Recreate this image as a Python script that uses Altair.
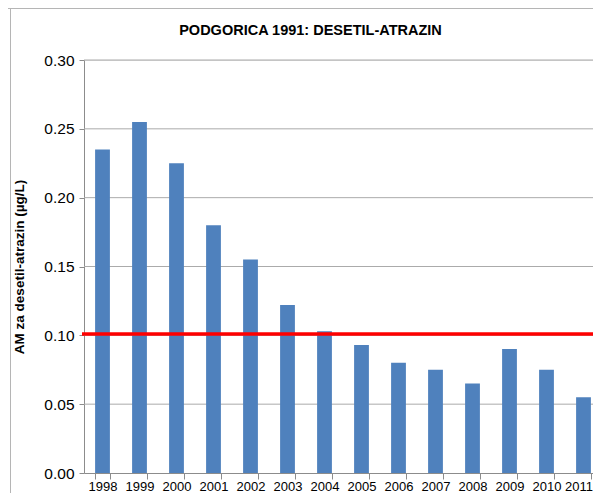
import altair as alt
import pandas as pd

years = ["1998", "1999", "2000", "2001", "2002", "2003", "2004",
         "2005", "2006", "2007", "2008", "2009", "2010", "2011"]
values = [0.235, 0.255, 0.225, 0.180, 0.155, 0.122, 0.103,
          0.093, 0.080, 0.075, 0.065, 0.090, 0.075, 0.055]
threshold = [0.101]
y_ticks = [0.00, 0.05, 0.10, 0.15, 0.20, 0.25, 0.30]
chart_title = "PODGORICA 1991: DESETIL-ATRAZIN"
y_title = "AM za desetil-atrazin (µg/L)"

FONT = "Liberation Sans"
GRAY = "#8C8C8C"
Y_SCALE = alt.Scale(domain=[0, 0.30], nice=False, zero=True)

df = pd.DataFrame({"year": years, "value": values})
tdf = pd.DataFrame({"limit": threshold})
gdf = pd.DataFrame({"tick": y_ticks[1:]})
frame_df = pd.DataFrame({"k": [0]})

grid = alt.Chart(gdf).mark_rule(color="#ABABAB", strokeWidth=1).encode(
    y=alt.Y("tick:Q", scale=Y_SCALE, title=y_title),
    x=alt.value(0), x2=alt.value(530),
)

bars = alt.Chart(df).mark_bar(color="#4F81BD").encode(
    x=alt.X(
        "year:N", sort=years,
        scale=alt.Scale(paddingInner=0.6, paddingOuter=0.3, range=[0, 518]),
        axis=alt.Axis(title=None, labelAngle=0, tickBand="extent",
                      labelFont=FONT, labelFontSize=13, labelColor="black",
                      labelOffset={"condition": {"test": "datum.value === '2011'", "value": -5},
                                   "value": 0},
                      domainColor=GRAY, tickColor=GRAY, tickSize=6,
                      labelPadding=1, grid=False),
    ),
    y=alt.Y(
        "value:Q", scale=Y_SCALE,
        axis=alt.Axis(values=y_ticks, format=".2f", title=y_title,
                      labelFont=FONT, labelFontSize=15.5, labelColor="black",
                      titleFont=FONT, titleFontSize=13.5, titleFontWeight="bold",
                      titleColor="black", titleX=-58, titleBaseline="bottom",
                      domainColor=GRAY, tickColor=GRAY, tickSize=5,
                      labelPadding=5, grid=False),
    ),
)

limit_rule = alt.Chart(tdf).mark_rule(color="#FF0000", strokeWidth=3.5).encode(
    y=alt.Y("limit:Q", scale=Y_SCALE, title=y_title),
    x=alt.value(-2), x2=alt.value(530),
)

frame_top = alt.Chart(frame_df).mark_rule(color="#B5B5B5", strokeWidth=1).encode(
    x=alt.value(-76), x2=alt.value(530), y=alt.value(-51.5)
)
frame_left = alt.Chart(frame_df).mark_rule(color="#B5B5B5", strokeWidth=1).encode(
    x=alt.value(-73.5), y=alt.value(-52), y2=alt.value(450)
)

chart = alt.layer(grid, bars, limit_rule, frame_top, frame_left).properties(
    width=509,
    height=413,
    autosize=alt.AutoSizeParams(type="none"),
    padding={"left": 76, "top": 52, "right": 0, "bottom": 20},
    title=alt.Title(chart_title, font=FONT, fontSize=14.5, fontWeight="bold",
                    color="black", anchor="middle", dx=-28, offset=0,
                    baseline="alphabetic", dy=42),
).configure_view(stroke=None).configure(background="white")

chart.save("out.html", embed_options={"renderer": "svg", "actions": False})
